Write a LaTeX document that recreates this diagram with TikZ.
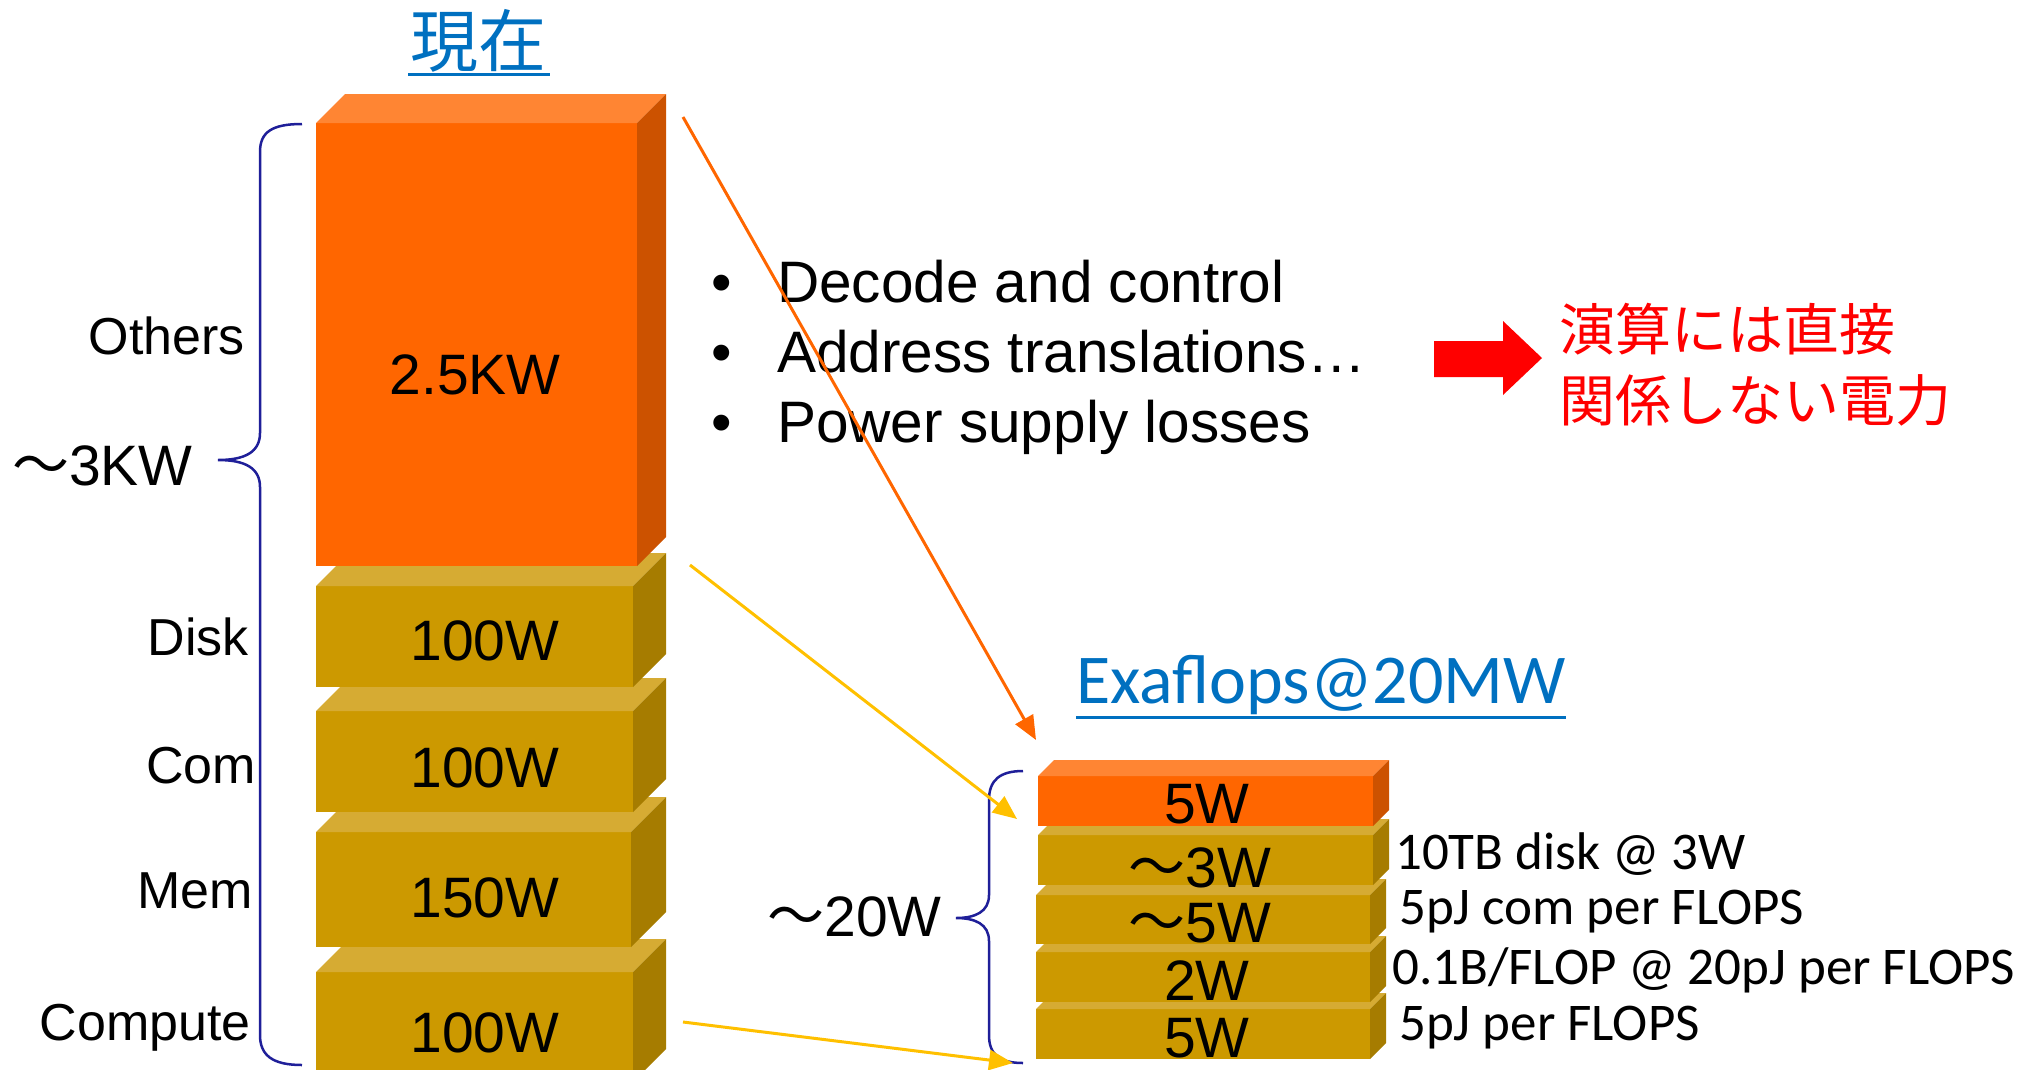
\documentclass[tikz,border=0pt]{standalone}
\usepackage{fontspec}
\setmainfont{Liberation Sans}
\newfontfamily\calibri{Carlito}
\newfontfamily\jpfont{Noto Sans CJK JP}
\usetikzlibrary{calc,arrows.meta}

\definecolor{ofacec}{HTML}{FF6600}
\definecolor{otopc}{HTML}{FF8533}
\definecolor{osidec}{HTML}{CC5200}
\definecolor{gfacec}{HTML}{CC9900}
\definecolor{gtopc}{HTML}{D6AB33}
\definecolor{gsidec}{HTML}{A67C00}
\definecolor{ylinkc}{HTML}{FFC000}
\definecolor{bracec}{HTML}{1F1F99}
\definecolor{titlec}{HTML}{0070C0}

\begin{document}
\begin{tikzpicture}[
  x = 1pt, y = -1pt,
  obox/.style  = {rectangle, fill=ofacec, anchor=north west, inner sep=0pt, outer sep=0pt},
  gbox/.style  = {rectangle, fill=gfacec, anchor=north west, inner sep=0pt, outer sep=0pt},
  val/.style   = {anchor=base, inner sep=0pt, font=\fontsize{57}{68}\selectfont},
  lbl/.style   = {anchor=base east, inner sep=0pt, font=\fontsize{52}{62}\selectfont},
  item/.style  = {anchor=base west, inner sep=0pt, font=\fontsize{58.5}{70}\selectfont},
  note/.style  = {anchor=base west, inner sep=0pt, font=\calibri\fontsize{53}{62}\selectfont},
  head/.style  = {anchor=base, inner sep=0pt, text=titlec},
  jpred/.style = {anchor=base west, inner sep=0pt, text=red, font=\jpfont\fontsize{56}{68}\selectfont},
  curly/.style = {draw=bracec, line width=2.5pt},
  olink/.style = {draw=ofacec, line width=3pt, -{Triangle[length=24pt,width=20pt]}},
  ylink/.style = {draw=ylinkc, line width=3pt, -{Triangle[length=24pt,width=20pt]}},
  ]
  \useasboundingbox (0,0) rectangle (2040,1069);
  % present machine, bottom to top
  \node[gbox, minimum width=317, minimum height=110] (comp) at (316,972) {};
  \fill[gtopc]  (comp.north west) -- ++(33,-33) -- ($(comp.north east)+(33,-33)$) -- (comp.north east) -- cycle;
  \fill[gsidec] (comp.north east) -- ++(33,-33) -- ($(comp.south east)+(33,-33)$) -- (comp.south east) -- cycle;
  \node[gbox, minimum width=315, minimum height=115] (mem) at (316,832) {};
  \fill[gtopc]  (mem.north west) -- ++(35,-35) -- ($(mem.north east)+(35,-35)$) -- (mem.north east) -- cycle;
  \fill[gsidec] (mem.north east) -- ++(35,-35) -- ($(mem.south east)+(35,-35)$) -- (mem.south east) -- cycle;
  \node[gbox, minimum width=317, minimum height=101] (com) at (316,711) {};
  \fill[gtopc]  (com.north west) -- ++(33,-33) -- ($(com.north east)+(33,-33)$) -- (com.north east) -- cycle;
  \fill[gsidec] (com.north east) -- ++(33,-33) -- ($(com.south east)+(33,-33)$) -- (com.south east) -- cycle;
  \node[gbox, minimum width=317, minimum height=101] (disk) at (316,586) {};
  \fill[gtopc]  (disk.north west) -- ++(33,-33) -- ($(disk.north east)+(33,-33)$) -- (disk.north east) -- cycle;
  \fill[gsidec] (disk.north east) -- ++(33,-33) -- ($(disk.south east)+(33,-33)$) -- (disk.south east) -- cycle;
  \node[obox, minimum width=321, minimum height=443] (others) at (316,123) {};
  \fill[otopc]  (others.north west) -- ++(29,-29) -- ($(others.north east)+(29,-29)$) -- (others.north east) -- cycle;
  \fill[osidec] (others.north east) -- ++(29,-29) -- ($(others.south east)+(29,-29)$) -- (others.south east) -- cycle;
  % values
  \node[val] (othersw) at (475,394) {2.5KW};
  \node[val] (diskw) at (485,660) {100W};
  \node[val] (comw) at (485,787) {100W};
  \node[val] (memw) at (485,917) {150W};
  \node[val] (compw) at (485,1052) {100W};
  % labels
  \node[lbl] (lothers) at (245,354) {Others};
  \node[lbl] (ldisk) at (249,655) {Disk};
  \node[lbl] (lcom) at (256,783) {Com};
  \node[lbl] (lmem) at (253,908) {Mem};
  \node[lbl] (lcomp) at (251,1040) {Compute};
  \node[lbl, font=\fontsize{57}{68}\selectfont] (total) at (193,485) {{\jpfont ～}3KW};
  \draw[curly] (302,124) .. controls (272,124) and (260,132) .. (260,152) -- (260,433)
    .. controls (260,452) and (245,460) .. (218,460) .. controls (245,460) and (260,468) .. (260,487)
    -- (260,1035) .. controls (260,1055) and (272,1065) .. (302,1065);
  \node[head, font=\jpfont\fontsize{68}{72}\selectfont] (now) at (478,66) {現在};
  \draw[titlec, line width=3pt] (408,74) -- (550,74);
  % reasons
  \node[item] (b1) at (711,302) {\makebox[66pt][l]{•}Decode and control};
  \node[item] (b2) at (711,372) {\makebox[66pt][l]{•}Address translations…};
  \node[item] (b3) at (711,442) {\makebox[66pt][l]{•}Power supply losses};
  \fill[red] (1434,341) -- (1503,341) -- (1503,321) -- (1542,358) -- (1503,395) -- (1503,377) -- (1434,377) -- cycle;
  \node[jpred] (nc1) at (1559,350) {演算には直接};
  \node[jpred] (nc2) at (1559,421) {関係しない電力};
  % exaflops machine, bottom to top
  \node[gbox, minimum width=334, minimum height=50] (x5) at (1036,1009) {};
  \fill[gtopc]  (x5.north west) -- ++(16,-16) -- ($(x5.north east)+(16,-16)$) -- (x5.north east) -- cycle;
  \fill[gsidec] (x5.north east) -- ++(16,-16) -- ($(x5.south east)+(16,-16)$) -- (x5.south east) -- cycle;
  \node[gbox, minimum width=334, minimum height=50] (x2) at (1036,952) {};
  \fill[gtopc]  (x2.north west) -- ++(16,-16) -- ($(x2.north east)+(16,-16)$) -- (x2.north east) -- cycle;
  \fill[gsidec] (x2.north east) -- ++(16,-16) -- ($(x2.south east)+(16,-16)$) -- (x2.south east) -- cycle;
  \node[gbox, minimum width=334, minimum height=49] (xcom) at (1036,895) {};
  \fill[gtopc]  (xcom.north west) -- ++(16,-16) -- ($(xcom.north east)+(16,-16)$) -- (xcom.north east) -- cycle;
  \fill[gsidec] (xcom.north east) -- ++(16,-16) -- ($(xcom.south east)+(16,-16)$) -- (xcom.south east) -- cycle;
  \node[gbox, minimum width=335, minimum height=50] (xdisk) at (1038,835) {};
  \fill[gtopc]  (xdisk.north west) -- ++(16,-16) -- ($(xdisk.north east)+(16,-16)$) -- (xdisk.north east) -- cycle;
  \fill[gsidec] (xdisk.north east) -- ++(16,-16) -- ($(xdisk.south east)+(16,-16)$) -- (xdisk.south east) -- cycle;
  \node[obox, minimum width=335, minimum height=50] (xothers) at (1038,776) {};
  \fill[otopc]  (xothers.north west) -- ++(16,-16) -- ($(xothers.north east)+(16,-16)$) -- (xothers.north east) -- cycle;
  \fill[osidec] (xothers.north east) -- ++(16,-16) -- ($(xothers.south east)+(16,-16)$) -- (xothers.south east) -- cycle;
  % values
  \node[val] (xothersw) at (1207,823) {5W};
  \node[val] (xdiskw) at (1200,887) {{\jpfont ～}3W};
  \node[val] (xcomw) at (1200,942) {{\jpfont ～}5W};
  \node[val] (x2w) at (1207,1000) {2W};
  \node[val] (x5w) at (1207,1057) {5W};
  % notes
  \node[note] (n1) at (1395,869) {10TB disk @ 3W};
  \node[note] (n2) at (1399,924) {5pJ com per FLOPS};
  \node[note] (n3) at (1392,984) {0.1B/FLOP @ 20pJ per FLOPS};
  \node[note] (n4) at (1399,1040) {5pJ per FLOPS};
  \node[lbl, font=\fontsize{57}{68}\selectfont] (xtotal) at (942,936) {{\jpfont ～}20W};
  \draw[curly] (1023,771) .. controls (1000,771) and (989,780) .. (989,800) -- (989,895)
    .. controls (989,912) and (975,918) .. (956,918) .. controls (975,918) and (989,924) .. (989,941)
    -- (989,1035) .. controls (989,1055) and (1000,1063) .. (1023,1063);
  \node[head, anchor=base west, font=\calibri\fontsize{70}{74}\selectfont] (exa) at (1076,703) {Exaflops@20MW};
  \draw[titlec, line width=3pt] (exa.base west) ++(0,14) -- ($(exa.base east)+(0,14)$);
  % links
  \coordinate (oa) at (683,117);
  \coordinate (ob) at (1036,740);
  \coordinate (ya) at (690,565);
  \coordinate (yb) at (1017,819);
  \coordinate (yc) at (683,1022);
  \coordinate (yd) at (1013,1063);
  \draw[olink] (oa) -- (ob);
  \draw[ylink] (ya) -- (yb);
  \draw[ylink] (yc) -- (yd);
\end{tikzpicture}
\end{document}
